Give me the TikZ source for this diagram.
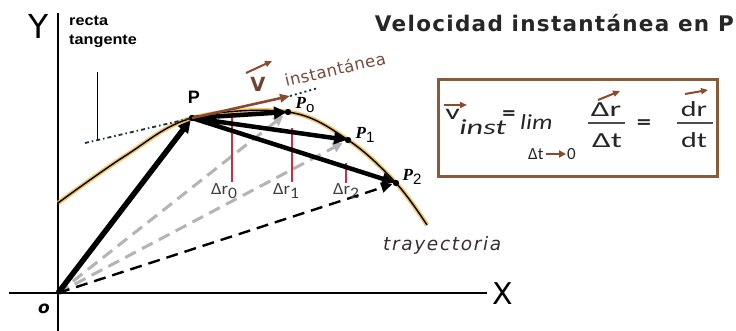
\documentclass[tikz,border=0pt]{standalone}
\usepackage{fontspec}
\setmainfont{Carlito}
\newfontfamily\dv{DejaVu Sans}
\newfontfamily\lib{Liberation Sans}
\newfontfamily\libs{Liberation Serif}
\newfontfamily\carl{Carlito}
\usetikzlibrary{arrows.meta}
\definecolor{brownA}{HTML}{8B4A2E}
\definecolor{boxbrown}{HTML}{8A5A3A}
\definecolor{glow}{HTML}{F2B440}
\definecolor{textbrown}{HTML}{7A4A3A}
\definecolor{redline}{HTML}{D8283A}
\definecolor{tang}{HTML}{1A3040}
\definecolor{lgray}{HTML}{B4B4B4}
\definecolor{trcol}{HTML}{3A2E2E}
\tikzset{
  axis/.style={line width=1.6pt},
  bigarrow/.style={line width=4.5pt,-{Triangle[length=13pt,width=12pt]}},
  grayarrow/.style={lgray,line width=3pt,dash pattern=on 12pt off 7pt,-{Triangle[length=10pt,width=10pt]}},
  blackdash/.style={black,line width=2.4pt,dash pattern=on 12pt off 7pt,-{Triangle[length=11pt,width=10pt]}},
  redbar/.style={redline,line width=1.8pt},
  dlabel/.style={font=\carl\fontsize{17}{17}\selectfont,text=black!75,inner sep=0pt,anchor=base,xscale=1.1},
  plabel/.style={font=\libs\bfseries\itshape\fontsize{17}{17}\selectfont,inner sep=0pt},
  formula/.style={font=\carl\fontsize{21.5}{21.5}\selectfont,text=black!85,inner sep=0pt},
  brownarrow/.style={brownA,line width=2pt,-{Triangle[length=7pt,width=6pt]}}
}
\begin{document}
\begin{tikzpicture}[x=1pt,y=-1pt]
\useasboundingbox[fill=white] (0,0) rectangle (736,331);
% key points
\coordinate (O) at (58,293);
\coordinate (P) at (192,118);
\coordinate (P0) at (288,112);
\coordinate (P1) at (348,140);
\coordinate (P2) at (396,183);
% axes
\coordinate (Ytop) at (58,13);
\coordinate (Ybot) at (58,331);
\coordinate (Xl) at (9,293);
\coordinate (Xr) at (487,293);
\draw[axis] (Ytop) -- (Ybot);
\draw[axis] (Xl) -- (Xr);
\node[font=\dv\fontsize{33}{33}\selectfont,inner sep=0pt] (Ylab) at (39,26) {Y};
\node[font=\dv\fontsize{30}{30}\selectfont,inner sep=0pt] (Xlab) at (503,294) {X};
\node[font=\dv\bfseries\itshape\fontsize{17}{17}\selectfont,inner sep=0pt] (Olab) at (44,309) {o};
% dashed position vectors
\draw[grayarrow,shorten >=6pt] (O) -- (P0);
\draw[grayarrow,shorten >=6pt] (O) -- (P1);
\draw[blackdash,shorten >=4pt] (O) -- (P2);
\draw[bigarrow,line width=5.5pt,shorten >=2pt] (O) -- (P);
% red bars
\coordinate (R0t) at (232,112); \coordinate (R0b) at (232,182);
\coordinate (R1t) at (292,128); \coordinate (R1b) at (292,182);
\coordinate (R2t) at (346,163); \coordinate (R2b) at (346,183);
\draw[redbar] (R0t) -- (R0b);
\draw[redbar] (R1t) -- (R1b);
\draw[redbar] (R2t) -- (R2b);
\node[dlabel] (d0) at (224,195) {Δr\raisebox{-4pt}{\fontsize{16}{16}\selectfont 0}};
\node[dlabel] (d1) at (286,195) {Δr\raisebox{-4pt}{\fontsize{16}{16}\selectfont 1}};
\node[dlabel] (d2) at (346,195) {Δr\raisebox{-4pt}{\fontsize{16}{16}\selectfont 2}};
% trajectory
\draw[glow,line width=4.5pt,opacity=0.8] plot[smooth,tension=0.6] coordinates {(58,203) (125,156) (192,118) (288,112) (348,140) (396,183) (427,225)};
\draw[black,line width=1.4pt] plot[smooth,tension=0.6] coordinates {(58,203) (125,156) (192,118) (288,112) (348,140) (396,183) (427,225)};
% chord arrows
\draw[bigarrow,shorten >=1pt] (P) -- (P0);
\draw[bigarrow,shorten >=1pt] (P) -- (P1);
\draw[bigarrow,shorten >=1pt] (P) -- (P2);
\foreach \q in {P,P0,P1,P2} \fill (\q) circle (3.2pt);
% tangent
\coordinate (T) at (85,143);
\draw[tang,line width=1.8pt,dash pattern=on 4pt off 3pt on 1.5pt off 3pt] (T) -- (P);
\coordinate (L1) at (97,72);
\coordinate (L2) at (97,139);
\draw[line width=1pt] (L1) -- (L2);
\node[font=\lib\bfseries\fontsize{14.5}{19}\selectfont,align=left,anchor=base west,inner sep=0pt,xscale=1.12] (rt) at (69,45) {recta\\tangente};
% velocity arrow
\coordinate (Vend) at (290,96);
\coordinate (Vdot) at (318,88);
\draw[brownA,line width=2.6pt,-{Triangle[length=10pt,width=8pt]}] (P) -- (Vend);
\draw[tang,line width=1.8pt,dash pattern=on 2pt off 3pt] (Vend) -- (Vdot);
\node[font=\dv\bfseries\fontsize{19.5}{19.5}\selectfont,text=textbrown!90!black,inner sep=0pt] (V) at (258,84) {V};
\coordinate (va) at (246,73); \coordinate (vb) at (272,61);
\draw[brownarrow] (va) -- (vb);
\node[font=\dv\fontsize{16.5}{16.5}\selectfont\addfontfeature{LetterSpace=3},text=textbrown,rotate=13,inner sep=0pt] (inst) at (335,69) {instantánea};
% point labels
\node[font=\lib\bfseries\fontsize{18}{18}\selectfont,inner sep=0pt] (Plab) at (194,97) {P};
\node[plabel] (P0lab) at (305,105) {P\raisebox{-4pt}{\normalfont\lib\fontsize{15}{15}\selectfont o}};
\node[plabel] (P1lab) at (365,135) {P\raisebox{-4pt}{\normalfont\lib\fontsize{15}{15}\selectfont 1}};
\node[plabel] (P2lab) at (412,177) {P\raisebox{-4pt}{\normalfont\lib\fontsize{15}{15}\selectfont 2}};
\node[font=\dv\itshape\fontsize{18.5}{18.5}\selectfont\addfontfeature{LetterSpace=9},text=trcol,anchor=base west,inner sep=0pt] (tray) at (383,250) {trayectoria};
% title
\node[font=\dv\bfseries\fontsize{21.5}{21.5}\selectfont\addfontfeature{LetterSpace=6},text=black!85,anchor=base east,inner sep=0pt] (title) at (734,32) {Velocidad instantánea en P};
% formula box
\node[draw=boxbrown,line width=3pt,minimum width=279pt,minimum height=97pt,inner sep=0pt] (box) at (577.5,128.5) {};
\coordinate (fa1) at (444,105); \coordinate (fa2) at (467,105);
\draw[brownarrow] (fa1) -- (fa2);
\node[formula,anchor=base west,xscale=1.5] (v) at (445,120) {v};
\node[formula,font=\carl\itshape\fontsize{21.5}{21.5}\selectfont,anchor=base west,xscale=1.5] (inst2) at (459,135) {inst};
\node[formula,font=\carl\bfseries\fontsize{22}{22}\selectfont,xscale=1.2] (eq1) at (509,116) {=};
\node[formula,font=\carl\itshape\fontsize{21.5}{21.5}\selectfont,anchor=base west,xscale=1.2] (lim) at (520,130) {lim};
\node[font=\carl\fontsize{17}{17}\selectfont,inner sep=0pt,anchor=base west,text=black!85] (dt0) at (528,160) {Δt};
\coordinate (la1) at (546,154); \coordinate (la2) at (566,154);
\draw[brownA,line width=2pt,-{Triangle[length=7pt,width=7pt]}] (la1) -- (la2);
\node[font=\carl\fontsize{17}{17}\selectfont,inner sep=0pt,anchor=base west,text=black!85] (zero) at (567,160) {0};
\node[formula,anchor=base,xscale=1.55] (num1) at (606,117) {Δr};
\node[formula,anchor=base,xscale=1.55] (den1) at (607,148) {Δt};
\coordinate (b1a) at (588,123); \coordinate (b1b) at (625,123);
\draw[line width=1.4pt,black!70] (b1a) -- (b1b);
\coordinate (ra1) at (598,100); \coordinate (ra2) at (620,91);
\draw[brownarrow] (ra1) -- (ra2);
\node[formula,font=\carl\bfseries\fontsize{22}{22}\selectfont,xscale=1.3] (eq2) at (644,125) {=};
\node[formula,anchor=base,xscale=1.4] (num2) at (694,117) {dr};
\node[formula,anchor=base,xscale=1.4] (den2) at (694,148) {dt};
\coordinate (b2a) at (677,123); \coordinate (b2b) at (713,123);
\draw[line width=1.4pt,black!70] (b2a) -- (b2b);
\coordinate (ra3) at (685,94); \coordinate (ra4) at (708,90);
\draw[brownarrow] (ra3) -- (ra4);
\end{tikzpicture}
\end{document}
